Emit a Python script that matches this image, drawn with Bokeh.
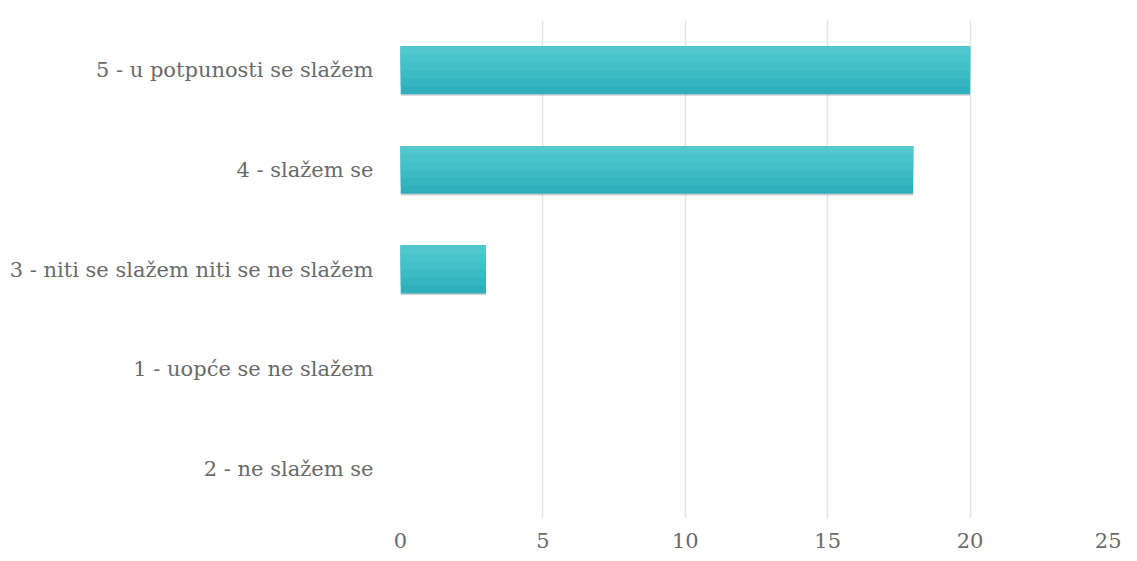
from bokeh.plotting import figure
from bokeh.models import ColumnDataSource, FactorRange, Range1d, FixedTicker
from bokeh.transform import dodge
from bokeh.embed import file_html
from bokeh.resources import INLINE

categories = ["2 - ne slažem se", "1 - uopće se ne slažem",
              "3 - niti se slažem niti se ne slažem", "4 - slažem se",
              "5 - u potpunosti se slažem"]
values = [0, 0, 3, 18, 20]
x_ticks = [0, 5, 10, 15, 20, 25]

src = ColumnDataSource(data=dict(cat=categories, val=values))

p = figure(width=1121, height=553, y_range=FactorRange(*categories),
           x_range=Range1d(0, 25), output_backend="svg", toolbar_location=None,
           min_border_left=400, min_border_right=9, min_border_top=20,
           min_border_bottom=35)
p.outline_line_color = None
p.background_fill_color = "white"

# shadow
p.hbar(y=dodge("cat", -0.016, range=p.y_range), right="val", height=0.48,
       source=src, fill_color="#8a8a8a", fill_alpha=0.4, line_color=None)
# stepped gradient
layers = [(0.48, 0.0, "#30aebb"), (0.40, 0.04, "#36b5c0"),
          (0.32, 0.08, "#3cbbc5"), (0.24, 0.12, "#43c0c8"),
          (0.16, 0.16, "#4ac4cb"), (0.08, 0.20, "#52c8ce")]
for h, d, c in layers:
    p.hbar(y=dodge("cat", d, range=p.y_range), right="val", height=h,
           source=src, fill_color=c, line_color=None)

p.xaxis.ticker = FixedTicker(ticks=x_ticks)
p.xgrid.ticker = FixedTicker(ticks=x_ticks)
p.xgrid.grid_line_color = "#e3e3e3"
p.xgrid.grid_line_width = 1.5
p.ygrid.grid_line_color = None

for ax in (p.xaxis, p.yaxis):
    ax.axis_line_color = None
    ax.major_tick_line_color = None
    ax.minor_tick_line_color = None
    ax.major_label_text_font = "DejaVu Serif"
    ax.major_label_text_color = "#6a6a6a"
    ax.major_label_text_font_size = "21px"
p.yaxis.major_label_standoff = 21
p.xaxis.major_label_standoff = 8

open("out.html", "w").write(file_html(p, INLINE))
